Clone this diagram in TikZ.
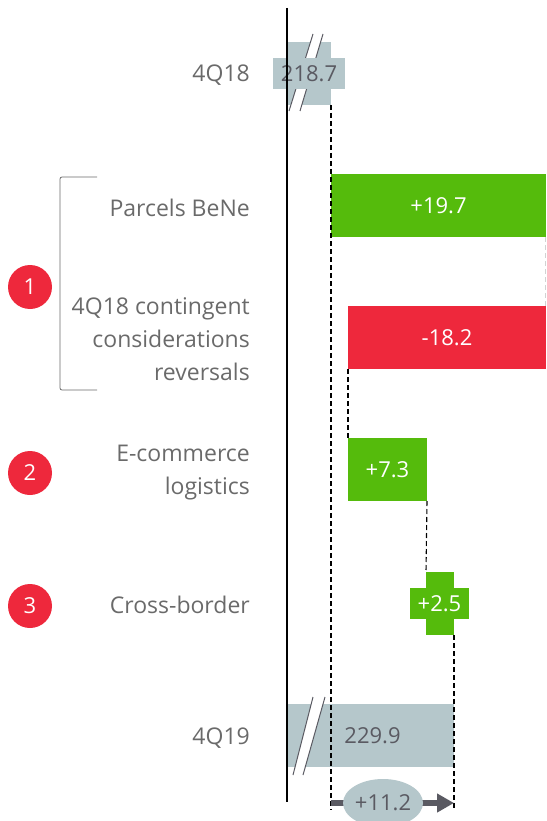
\documentclass[tikz,border=0pt]{standalone}
\usepackage{fontspec}
\setmainfont{Open Sans}
\usetikzlibrary{arrows.meta,shapes.geometric}

\definecolor{pgreen}{HTML}{55BB0C}
\definecolor{pred}{HTML}{EE283C}
\definecolor{pgrey}{HTML}{B5C7CB}
\definecolor{ptext}{HTML}{6A6A6A}
\definecolor{pdark}{HTML}{5A5A62}

\tikzset{
  bar/.style={inner sep=0, outer sep=0, minimum height=63pt, font=\fontsize{22}{26}\selectfont},
  lbl/.style={anchor=east, align=right, inner sep=0, text=ptext, font=\fontsize{23}{33}\selectfont},
  badge/.style={circle, fill=pred, text=white, minimum size=44pt, inner sep=0, font=\fontsize{22}{26}\selectfont},
  brk/.style={fill=white, draw=none},
  conn/.style={line width=1.1pt, dash pattern=on 5pt off 3pt},
}

\begin{document}
\begin{tikzpicture}[x=1pt, y=-1pt]
\useasboundingbox (0,0) rectangle (546,821);

% labels
\node (l18) at (250,75) [lbl] {4Q18};
\node (lpb) at (250,208) [lbl] {Parcels BeNe};
\node (lcc) at (250,339) [lbl] {4Q18 contingent\\considerations\\reversals};
\node (lec) at (250,473) [lbl] {E-commerce\\logistics};
\node (lcb) at (250,605) [lbl] {Cross-border};
\node (l19) at (250,738) [lbl] {4Q19};

\draw[ptext, line width=0.8pt, rounded corners=2pt] (97,177) -- (60,177) -- (60,390) -- (97,390);

\node (b1) at (30,287) [badge] {1};
\node (b2) at (30,473) [badge] {2};
\node (b3) at (30,606) [badge] {3};

% 4Q18
\node (q18) at (309,73.5) [bar, fill=pgrey, minimum width=44pt] {};
\fill[brk] (289,111) -- (313,34) -- (323,34) -- (300,111) -- cycle;
\draw[pdark, line width=1pt] (289,111) -- (313,34) (300,111) -- (323,34);
\node (q18w) at (309,73.5) [bar, fill=pgrey, text=pdark, minimum width=72pt, minimum height=31pt] {218.7};

% steps
\node (pb) at (438.5,205.5) [bar, fill=pgreen, text=white, minimum width=215pt] {+19.7};
\node (cc) at (447,337.5) [bar, fill=pred, text=white, minimum width=198pt] {-18.2};
\node (ec) at (387.5,469.5) [bar, fill=pgreen, text=white, minimum width=79pt] {+7.3};
\node (cb) at (440,603.5) [bar, fill=pgreen, minimum width=28pt] {};
\node (cbw) at (439.5,603.5) [bar, fill=pgreen, text=white, minimum width=59pt, minimum height=31pt] {+2.5};

% 4Q19
\node (q19) at (370.5,735.5) [bar, fill=pgrey, text=pdark, minimum width=167pt] {\hspace*{4pt}229.9};
\fill[brk] (293,775) -- (313,697) -- (325,697) -- (303,775) -- cycle;
\draw[pdark, line width=1pt] (293,775) -- (313,697) (303,775) -- (325,697);

% axis
\draw[black, line width=1.5pt] (287,8) -- (287,802);

\coordinate (d0) at (331,810);
\coordinate (d1) at (454,810);
\coordinate (a0) at (331,803);
\coordinate (a1) at (454,803);

\draw[conn] (q18.south east) -- (d0);
\draw[conn, gray!35] ([xshift=-0.5pt]pb.south east) -- ([xshift=-0.5pt]cc.north east);
\draw[conn] (cc.south west) -- (ec.north west);
\draw[conn] (ec.south east) -- (cb.north west);
\draw[conn] (cb.south east) -- (d1);

% total change
\draw[pdark, line width=6pt, -{Triangle[length=17pt, width=18pt]}] (a0) -- (a1);
\node (tot) at (383,803) [ellipse, fill=pgrey, text=pdark, minimum width=80pt, minimum height=48pt, inner sep=0, font=\fontsize{22}{26}\selectfont] {+11.2};

\end{tikzpicture}
\end{document}
